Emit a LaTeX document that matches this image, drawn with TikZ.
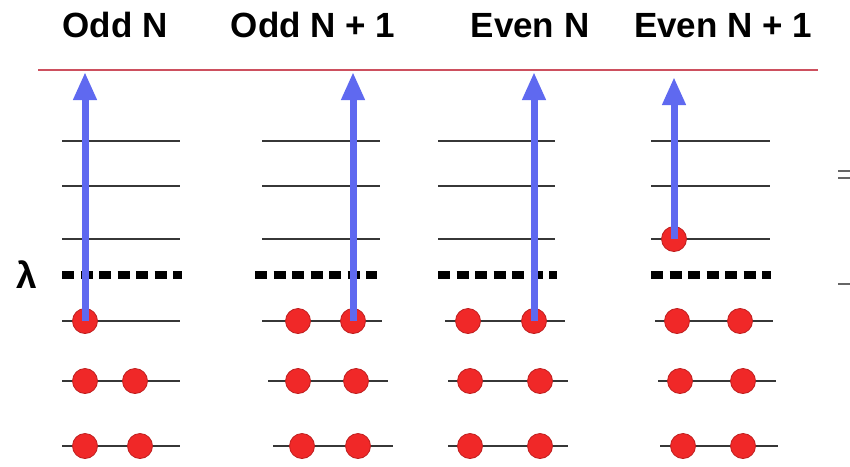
\documentclass[tikz,border=0pt]{standalone}
\usepackage{fontspec}
\setmainfont{Liberation Sans}
\usetikzlibrary{arrows.meta}
\definecolor{elec}{RGB}{240,40,40}
\definecolor{elecrim}{RGB}{190,30,30}
\definecolor{pump}{RGB}{95,105,240}
\definecolor{vacuum}{RGB}{205,80,95}
\definecolor{levelgray}{RGB}{55,55,55}
\tikzset{
  level/.style={draw=levelgray, line width=1.5},
  gapline/.style={draw=black, line width=8, dash pattern=on 12 off 6.5},
  electron/.style={circle, fill=elec, draw=elecrim, line width=0.8, minimum size=25, inner sep=0},
  excite/.style={draw=pump, line width=7, -{Triangle[width=22,length=28]}},
  title/.style={font=\bfseries\fontsize{35}{40}\selectfont, anchor=base, inner sep=0},
  edgemark/.style={draw=black!60, line width=2}
}
\begin{document}
\begin{tikzpicture}[x=1pt, y=-1pt]
\useasboundingbox[fill=white] (0,0) rectangle (850,466);

% column titles
\node[title] (h1) at (115,37) {Odd N};
\node[title] (h2) at (313,37) {Odd N + 1};
\node[title] (h3) at (530,37) {Even N};
\node[title] (h4) at (723,37) {Even N + 1};

% vacuum level
\draw[draw=vacuum, line width=1.8] (38,70) -- (818,70);

% chemical potential label
\node[font=\bfseries\fontsize{37}{40}\selectfont, inner sep=0] (lam) at (27,275) {λ};

% column 1: Odd N
\foreach \y in {141,186,239} \draw[level] (62,\y) -- (180,\y);
\draw[gapline] (62,275) -- (182,275);
\draw[level] (62,321) -- (180,321);
\draw[level] (62,381) -- (180,381);
\draw[level] (62,446) -- (180,446);
\node[electron] (a1) at (85,321) {};
\node[electron] (a2) at (85,381) {};
\node[electron] (a3) at (135,381) {};
\node[electron] (a4) at (85,446) {};
\node[electron] (a5) at (140,446) {};
\coordinate (ta) at (85,72);
\draw[excite] (a1.center) -- (ta);

% column 2: Odd N + 1
\foreach \y in {141,186,239} \draw[level] (262,\y) -- (380,\y);
\draw[gapline] (255,275) -- (377,275);
\draw[level] (262,321) -- (382,321);
\draw[level] (268,381) -- (388,381);
\draw[level] (273,446) -- (393,446);
\node[electron] (b1) at (298,321) {};
\node[electron] (b2) at (353,321) {};
\node[electron] (b3) at (298,381) {};
\node[electron] (b4) at (356,381) {};
\node[electron] (b5) at (302,446) {};
\node[electron] (b6) at (358,446) {};
\coordinate (tb) at (353,72);
\draw[excite] (b2.center) -- (tb);

% column 3: Even N
\foreach \y in {141,186,239} \draw[level] (438,\y) -- (555,\y);
\draw[gapline] (438,275) -- (557,275);
\draw[level] (445,321) -- (565,321);
\draw[level] (448,381) -- (568,381);
\draw[level] (448,446) -- (568,446);
\node[electron] (c1) at (468,321) {};
\node[electron] (c2) at (534,321) {};
\node[electron] (c3) at (470,381) {};
\node[electron] (c4) at (540,381) {};
\node[electron] (c5) at (470,446) {};
\node[electron] (c6) at (540,446) {};
\coordinate (tc) at (534,72);
\draw[excite] (c2.center) -- (tc);

% column 4: Even N + 1
\foreach \y in {141,186,239} \draw[level] (651,\y) -- (770,\y);
\draw[gapline] (651,275) -- (771,275);
\draw[level] (655,321) -- (773,321);
\draw[level] (658,381) -- (776,381);
\draw[level] (660,446) -- (778,446);
\node[electron] (d0) at (674,239) {};
\node[electron] (d1) at (677,321) {};
\node[electron] (d2) at (740,321) {};
\node[electron] (d3) at (680,381) {};
\node[electron] (d4) at (743,381) {};
\node[electron] (d5) at (683,446) {};
\node[electron] (d6) at (743,446) {};
\coordinate (td) at (674,77);
\draw[excite] (d0.center) -- (td);

% marks at the right edge
\draw[edgemark] (838,171) -- (850,171);
\draw[edgemark] (838,178) -- (850,178);
\draw[edgemark] (838,284) -- (850,284);
\end{tikzpicture}
\end{document}
